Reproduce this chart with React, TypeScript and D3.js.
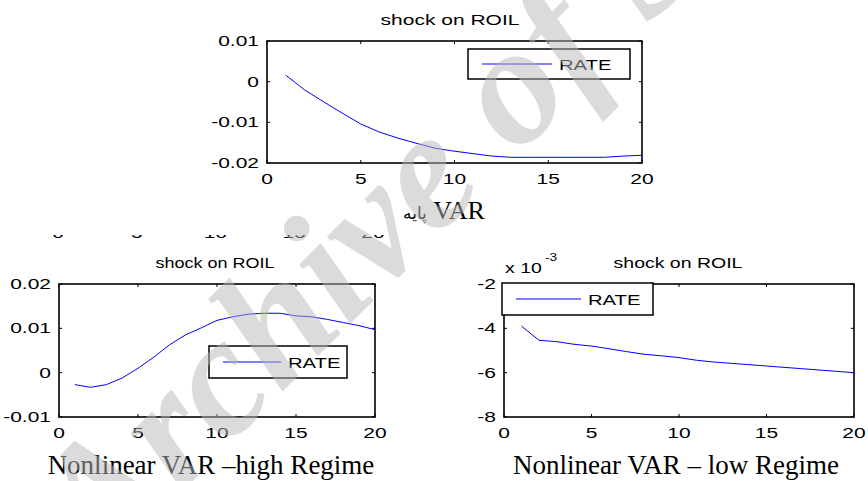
import React from "react";
import * as d3 from "d3";

const steps = d3.range(1, 21);
const xTicks = [0, 5, 10, 15, 20];
const xTickLabels = ["0", "5", "10", "15", "20"];

const topTitle = "shock on ROIL";
const topY = [0.0016, -0.002, -0.0049, -0.0077, -0.0104, -0.0124, -0.0139, -0.0152, -0.0164, -0.0171, -0.0177, -0.0183, -0.0186, -0.0186, -0.0186, -0.0186, -0.0186, -0.0186, -0.0183, -0.0181];
const topYTicks = [-0.02, -0.01, 0, 0.01];
const topYLabels = ["-0.02", "-0.01", "0", "0.01"];

const highY = [-0.0027, -0.0033, -0.0027, -0.0012, 0.001, 0.0035, 0.0063, 0.0085, 0.0101, 0.0118, 0.0126, 0.0132, 0.0134, 0.0134, 0.0128, 0.0126, 0.012, 0.0113, 0.0106, 0.0097];
const highYTicks = [-0.01, 0, 0.01, 0.02];
const highYLabels = ["-0.01", "0", "0.01", "0.02"];

const lowY = [-3.9, -4.54, -4.6, -4.72, -4.8, -4.92, -5.05, -5.17, -5.24, -5.32, -5.44, -5.52, -5.58, -5.64, -5.7, -5.76, -5.82, -5.88, -5.94, -6.0];
const lowYTicks = [-8, -6, -4, -2];
const lowYLabels = ["-8", "-6", "-4", "-2"];

const seriesName = "RATE";
const captionHigh = "Nonlinear VAR –high Regime";
const captionLow = "Nonlinear VAR – low Regime";
const watermark = "Archive of SID";

const SANS = "Arial, 'Liberation Sans', Helvetica, sans-serif";
const SERIF = "'Times New Roman', 'Liberation Serif', serif";

function SText({ x, y, sx = 1.4, size = 15, anchor = "start", children, fill = "#000", family = SANS }: any) {
  return (
    <text
      transform={`translate(${x},${y}) scale(${sx},1)`}
      textAnchor={anchor}
      fontFamily={family}
      fontSize={size}
      fill={fill}
    >
      {children}
    </text>
  );
}

function Panel({ x0, x1, y0, y1, yDomain, values, yTicks, yLabels, title, titleX, titleSx, legend, exponent }: any) {
  const xs = d3.scaleLinear().domain([0, 20]).range([x0, x1]);
  const ys = d3.scaleLinear().domain(yDomain).range([y1, y0]);
  const line = d3.line<number>().x((_, i) => xs(steps[i])).y((v) => ys(v));
  const tk = 3;
  return (
    <g>
      <rect x={x0} y={y0} width={x1 - x0} height={y1 - y0} fill="#fff" stroke="#000" strokeWidth={1.6} />
      {xTicks.map((t) => (
        <g key={"x" + t}>
          <line x1={xs(t)} x2={xs(t)} y1={y1} y2={y1 - tk} stroke="#000" />
          <line x1={xs(t)} x2={xs(t)} y1={y0} y2={y0 + tk} stroke="#000" />
        </g>
      ))}
      {yTicks.map((t: number) => (
        <g key={"y" + t}>
          <line x1={x0} x2={x0 + tk} y1={ys(t)} y2={ys(t)} stroke="#000" />
          <line x1={x1} x2={x1 - tk} y1={ys(t)} y2={ys(t)} stroke="#000" />
        </g>
      ))}
      <path d={line(values) || ""} fill="none" stroke="#0000ff" strokeWidth={1} />
      {xTicks.map((t, i) => (
        <SText key={"xl" + t} x={xs(t)} y={y1 + 21} anchor="middle">{xTickLabels[i]}</SText>
      ))}
      {yTicks.map((t: number, i: number) => (
        <SText key={"yl" + t} x={x0 - 8} y={ys(t) + 5} anchor="end">{yLabels[i]}</SText>
      ))}
      <SText x={titleX} y={y0 - 16} anchor="middle" size={15} sx={titleSx}>{title}</SText>
      {exponent && (
        <g>
          <SText x={x0 + 1} y={y0 - 11} anchor="start" size={15} sx={1.3}>x 10</SText>
          <SText x={x0 + 41} y={y0 - 23} anchor="start" size={10.5} sx={1.3}>-3</SText>
        </g>
      )}
      <g>
        <rect x={legend.x} y={legend.y} width={legend.w} height={legend.h} fill="#fff" stroke="#000" strokeWidth={1.5} />
        <line x1={legend.x + 14} x2={legend.x + 14 + legend.lw} y1={legend.y + legend.h / 2} y2={legend.y + legend.h / 2} stroke="#0000ff" strokeWidth={1} />
        <SText x={legend.x + 21 + legend.lw} y={legend.y + legend.h / 2 + 6} anchor="start" sx={1.35}>{seriesName}</SText>
      </g>
    </g>
  );
}

export default function App() {
  const cutScale = d3.scaleLinear().domain([0, 20]).range([58, 373]);
  return (
    <svg width={868} height={481} style={{ position: "absolute", left: 0, top: 0, background: "#fff" }}>
      <rect x={0} y={0} width={868} height={481} fill="#fff" />
      <Panel
        x0={267} x1={642} y0={41} y1={163}
        yDomain={[-0.02, 0.01]} values={topY} yTicks={topYTicks} yLabels={topYLabels}
        title={topTitle} titleX={450} titleSx={1.4}
        legend={{ x: 468, y: 49, w: 162, h: 30, lw: 70 }}
      />
      <text x={444} y={219} textAnchor="middle" fontFamily={SERIF} fontSize={26} fill="#000">
        <tspan fontSize={17} fontFamily="'DejaVu Sans', sans-serif">پایه</tspan>
        <tspan> VAR</tspan>
      </text>
      <defs>
        <clipPath id="cut">
          <rect x={0} y={235} width={868} height={3} />
        </clipPath>
      </defs>
      <g clipPath="url(#cut)">
        {xTickLabels.map((l, i) => (
          <SText key={"c" + i} x={cutScale(xTicks[i])} y={237.5} anchor="middle">{l}</SText>
        ))}
      </g>
      <Panel
        x0={59} x1={375} y0={284} y1={417}
        yDomain={[-0.01, 0.02]} values={highY} yTicks={highYTicks} yLabels={highYLabels}
        title={topTitle} titleX={215} titleSx={1.2}
        legend={{ x: 209, y: 346, w: 138, h: 32, lw: 58 }}
      />
      <Panel
        x0={504} x1={854} y0={284} y1={417}
        yDomain={[-8, -2]} values={lowY} yTicks={lowYTicks} yLabels={lowYLabels}
        title={topTitle} titleX={678} titleSx={1.3} exponent
        legend={{ x: 502, y: 283, w: 151, h: 32, lw: 65 }}
      />
      <text x={211} y={474} textAnchor="middle" fontFamily={SERIF} fontSize={27} fill="#000">{captionHigh}</text>
      <text x={676} y={474} textAnchor="middle" fontFamily={SERIF} fontSize={27} fill="#000">{captionLow}</text>
      <text
        transform="translate(100,574) rotate(-45)"
        fontFamily={SERIF}
        fontStyle="italic"
        fontWeight="bold"
        fontSize={170}
        fill="#b8b8b8"
        opacity={0.5}
      >
        {watermark}
      </text>
    </svg>
  );
}
